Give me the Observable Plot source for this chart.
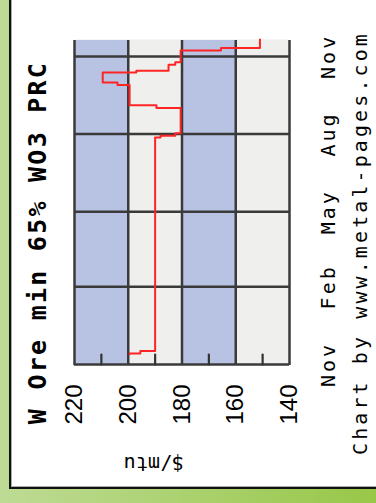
<!DOCTYPE html>
<html>
<head>
<meta charset="utf-8">
<script src="https://cdn.jsdelivr.net/npm/d3@7"></script>
<script src="https://cdn.jsdelivr.net/npm/@observablehq/plot@0.6"></script>
<style>
  html, body { margin: 0; padding: 0; }
  body {
    width: 376px; height: 503px; position: relative; overflow: hidden;
    background: linear-gradient(to right, #bedb95, #98c748);
  }
  #leftstrip { position: absolute; left: 0; top: 0; width: 9px; height: 489px; background: #bddb94; }
  #panel {
    position: absolute; left: 9px; top: 0; width: 380px; height: 487px;
    background: #ffffff; border-left: 2px solid #111; border-bottom: 2px solid #111;
    box-shadow: inset 1px -1px 0 #aaa;
  }
  #rot {
    position: absolute; left: 0; top: 0; width: 503px; height: 376px;
    transform-origin: 0 0; transform: translate(0, 503px) rotate(-90deg);
  }
  #title {
    height: 60px; box-sizing: border-box; padding-top: 25px; padding-left: 18px;
    font: bold 25px/25px "DejaVu Sans Mono", monospace; letter-spacing: 2.25px;
    text-align: center; color: #000; white-space: nowrap;
  }
  #caption {
    height: 26px; padding-left: 17px;
    font: 20px/20px "DejaVu Sans Mono", monospace; letter-spacing: 3.1px;
    text-align: center; color: #000; white-space: nowrap;
  }
  #chart svg { display: block; }
  g[aria-label="x-axis tick label"] text { letter-spacing: 3px; }
</style>
</head>
<body>
<div id="leftstrip"></div>
<div id="panel"></div>
<div id="rot">
  <div id="title">W Ore min 65% WO3 PRC</div>
  <div id="chart"></div>
  <div id="caption">Chart by www.metal-pages.com</div>
</div>
<script>
// Price series (W Ore min 65% WO3, PRC, $/mtu)
const dates  = ["2010-11-13","2010-11-14","2010-11-17","2011-07-28","2011-07-30","2011-08-02",
                "2011-09-01","2011-09-04","2011-09-28","2011-10-01","2011-10-13","2011-10-15",
                "2011-10-22","2011-10-25","2011-11-08","2011-11-11","2011-11-21"];
const prices = [199.5, 195.5, 190, 188, 182.5, 180.5,
                189.5, 199.5, 204, 209.5, 197, 185,
                182.5, 180.5, 165.5, 151, 151];
const xStart = "2010-11-01";
const xEnd = "2011-11-21";
const monthTicks = ["2010-11-01","2011-02-01","2011-05-01","2011-08-01","2011-11-01"];
const priceTicks = [140, 160, 180, 200, 220];
const minorTicks = [150, 170, 190, 210];
const bandLo = [200, 160];
const bandHi = [220, 180];
const yLabel = "$/mtu";

const data = dates.map((d, i) => ({date: new Date(d), price: prices[i]}));
const bands = bandLo.map((lo, i) => ({lo, hi: bandHi[i]}));
const mt = monthTicks.map(d => new Date(d));
const minorData = minorTicks.map(v => ({v, d: new Date(xStart)}));
const tickShape = {draw(context, l) { context.moveTo(0, 0); context.lineTo(0, -l); }};

const chart = Plot.plot({
  width: 503, height: 290,
  marginLeft: 138, marginRight: 40, marginTop: 14, marginBottom: 61,
  x: {type: "utc", domain: [new Date(xStart), new Date(xEnd)]},
  y: {domain: [140, 220]},
  style: {background: "transparent", color: "#000"},
  marks: [
    Plot.frame({fill: "#eff0ee", stroke: null}),
    Plot.rect(bands, {y1: "lo", y2: "hi", fill: "#b8c3e3"}),
    Plot.ruleY(priceTicks, {stroke: "#3a3a3a", strokeWidth: 2.5}),
    Plot.ruleX(mt, {stroke: "#3a3a3a", strokeWidth: 2.5}),
    Plot.vector(minorData, {x: "d", y: "v", rotate: 90, length: 10, anchor: "start",
      shape: tickShape, stroke: "#333333", strokeWidth: 2.2}),
    Plot.lineY(data, {x: "date", y: "price", curve: "step-after", stroke: "#ff2424", strokeWidth: 2}),
    Plot.axisY({ticks: priceTicks, tickSize: 0, tickPadding: 20, fontSize: 24,
      fontFamily: "Liberation Sans", label: null}),
    Plot.axisX({ticks: mt, tickFormat: d3.utcFormat("%b"), tickSize: 0, tickPadding: 31,
      fontSize: 20, fontFamily: "DejaVu Sans Mono", label: null}),
    Plot.text([yLabel], {frameAnchor: "left", rotate: -90, dx: -99, dy: 2, fontSize: 20,
      fontFamily: "DejaVu Sans Mono", lineAnchor: "middle", fill: "#000"})
  ]
});
document.getElementById("chart").appendChild(chart);
</script>
</body>
</html>
